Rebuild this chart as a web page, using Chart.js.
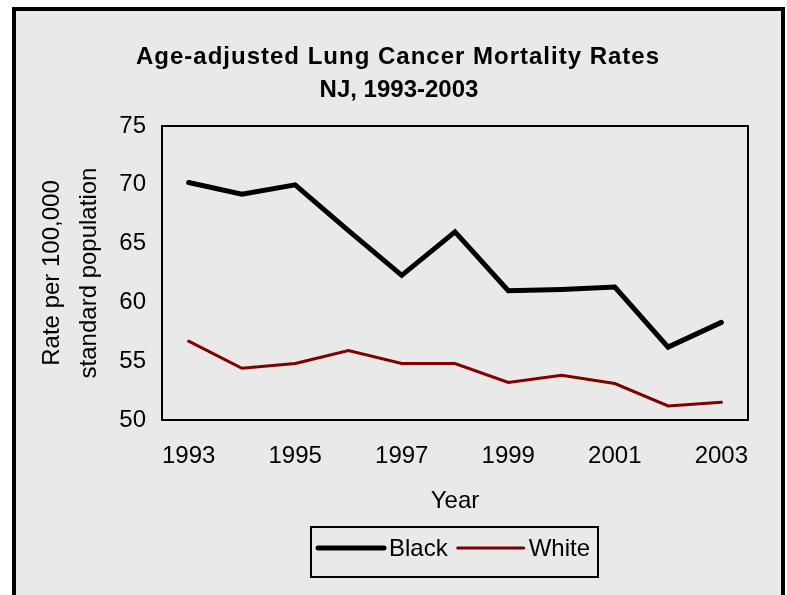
<!DOCTYPE html>
<html>
<head>
<meta charset="utf-8">
<title>Age-adjusted Lung Cancer Mortality Rates</title>
<script src="https://cdn.jsdelivr.net/npm/chart.js@4.4.1/dist/chart.umd.min.js"></script>
<style>
  html, body { margin: 0; padding: 0; background: #fff; overflow: hidden; }
  canvas { display: block; }
</style>
</head>
<body>
<canvas id="mortalityChart" width="787" height="595"></canvas>
<script>
const years = ['1993', '1994', '1995', '1996', '1997', '1998', '1999', '2000', '2001', '2002', '2003'];
const blackRates = [70.2, 69.2, 70.0, 66.1, 62.3, 66.0, 61.0, 61.1, 61.3, 56.2, 58.3];
const whiteRates = [56.7, 54.4, 54.8, 55.9, 54.8, 54.8, 53.2, 53.8, 53.1, 51.2, 51.5];
const yTicks = [50, 55, 60, 65, 70, 75];
const titleLines = ['Age-adjusted Lung Cancer Mortality Rates', 'NJ, 1993-2003'];

document.addEventListener('DOMContentLoaded', function() {
    const FONT = "'Liberation Sans', Arial, sans-serif";

    // grey panel with the thick black frame, plus the plot box, title and boxed legend
    const decorPlugin = {
        id: 'decor',
        beforeDraw(chart) {
            const c = chart.ctx;
            c.save();
            c.fillStyle = '#ffffff';
            c.fillRect(0, 0, chart.width, chart.height);
            c.fillStyle = '#e9e9e9';
            c.fillRect(14, 9, 769, chart.height);
            c.strokeStyle = '#000';
            c.lineWidth = 4;
            c.strokeRect(14, 9, 769, chart.height + 20);
            c.restore();
        },
        afterDraw(chart) {
            const c = chart.ctx;
            const a = chart.chartArea;
            c.save();
            c.strokeStyle = '#000';
            c.lineWidth = 2;
            c.strokeRect(a.left, a.top, a.right - a.left, a.bottom - a.top);

            // title
            c.fillStyle = '#000';
            c.textAlign = 'center';
            c.textBaseline = 'middle';
            c.font = 'bold 24px ' + FONT;
            c.letterSpacing = '1px';
            c.fillText(titleLines[0], 398, 57);
            c.letterSpacing = '0px';
            c.fillText(titleLines[1], 399, 90);

            // legend
            c.lineWidth = 2;
            c.strokeRect(311, 527, 287, 50);
            c.font = '24px ' + FONT;
            c.textAlign = 'left';
            let x = 318;
            const y = 548;
            chart.data.datasets.forEach(function(ds) {
                c.beginPath();
                c.strokeStyle = ds.borderColor;
                c.lineWidth = ds.borderWidth;
                c.lineCap = 'round';
                c.moveTo(x, y);
                c.lineTo(x + 66, y);
                c.stroke();
                x += 71;
                c.fillStyle = '#000';
                c.fillText(ds.label, x, y + 1);
                x += c.measureText(ds.label).width + 10;
            });
            c.restore();
        }
    };

    const ctx = document.getElementById('mortalityChart').getContext('2d');
    const mortalityChart = new Chart(ctx, {
        type: 'line',
        data: {
            labels: years,
            datasets: [{
                label: 'Black',
                data: blackRates,
                borderColor: '#000000',
                borderWidth: 5,
                pointRadius: 0,
                tension: 0,
                borderJoinStyle: 'miter',
                borderCapStyle: 'round'
            }, {
                label: 'White',
                data: whiteRates,
                borderColor: '#800000',
                borderWidth: 3,
                pointRadius: 0,
                tension: 0,
                borderJoinStyle: 'miter',
                borderCapStyle: 'round'
            }]
        },
        options: {
            responsive: false,
            animation: false,
            devicePixelRatio: 1,
            layout: {
                padding: { top: 126, right: 39, bottom: 0, left: 0 }
            },
            plugins: {
                legend: { display: false },
                title: { display: false },
                tooltip: { enabled: false }
            },
            scales: {
                x: {
                    offset: true,
                    grid: { display: false, drawTicks: false },
                    border: { display: false },
                    ticks: {
                        autoSkip: false,
                        maxRotation: 0,
                        padding: 22,
                        color: '#000',
                        font: { family: FONT, size: 24 },
                        callback: function(value, index) {
                            return index % 2 === 0 ? this.getLabelForValue(value) : '';
                        }
                    },
                    title: {
                        display: true,
                        text: 'Year',
                        color: '#000',
                        font: { family: FONT, size: 24 },
                        padding: { top: 0, bottom: 79 }
                    },
                    afterFit: function(scale) {
                        scale.height = 175;
                    }
                },
                y: {
                    min: 50,
                    max: 75,
                    grid: { display: false, drawTicks: false },
                    border: { display: false },
                    afterBuildTicks: function(scale) {
                        scale.ticks = yTicks.map(function(v) { return { value: v }; });
                    },
                    ticks: {
                        padding: 16,
                        color: '#000',
                        font: { family: FONT, size: 24 }
                    },
                    title: {
                        display: true,
                        text: ['Rate per 100,000', 'standard population'],
                        color: '#000',
                        font: { family: FONT, size: 24, lineHeight: 37 / 24 },
                        padding: { top: 34, bottom: 0 }
                    },
                    afterFit: function(scale) {
                        scale.width = 162;
                    }
                }
            }
        },
        plugins: [decorPlugin]
    });
});
</script>
</body>
</html>
